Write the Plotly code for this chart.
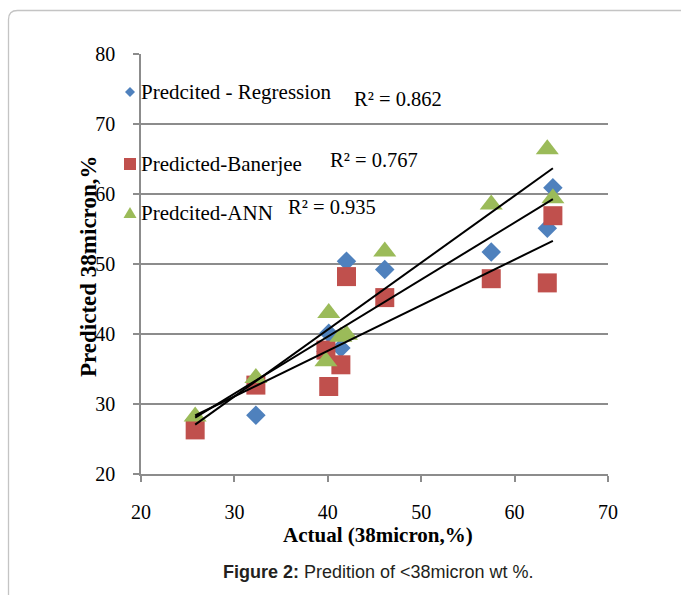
import numpy as np
import plotly.graph_objects as go

# ---- data ----
actual = [25.8, 32.3, 39.8, 40.1, 41.4, 42.0, 46.1, 57.5, 63.5, 64.1]
pred_regression = [27.8, 28.4, 37.5, 40.1, 38.0, 50.4, 49.2, 51.7, 55.1, 60.9]
pred_banerjee = [26.3, 32.7, 37.7, 32.5, 35.6, 48.2, 45.2, 47.9, 47.3, 56.9]
pred_ann = [28.2, 33.7, 36.1, 43.0, 39.6, 39.9, 51.8, 58.5, 66.4, 59.4]

series_names = ["Predcited - Regression", "Predicted-Banerjee", "Predcited-ANN"]
r2_labels = ["R² = 0.862", "R² = 0.767", "R² = 0.935"]
x_ticks = [20, 30, 40, 50, 60, 70]
y_ticks = [20, 30, 40, 50, 60, 70, 80]

colors = ["#4F81BD", "#C0504D", "#9BBB59"]
symbols = ["diamond", "square", "triangle-up"]
sizes = [15, 19, 20]

W, H = 681, 595
ML, MR, MT, MB = 141, 73, 54, 121
PW = W - ML - MR
PH = H - MT - MB


def px(x):
    return (x - ML) / PW


def py(y):
    return (H - MB - y) / PH


SERIF = "Liberation Serif, Times New Roman, serif"
GRID = "#8c8c8c"

fig = go.Figure()

all_series = [pred_regression, pred_banerjee, pred_ann]
for vals, name, c, s, sz in zip(all_series, series_names, colors, symbols, sizes):
    fig.add_trace(go.Scatter(
        x=actual, y=vals, mode="markers", name=name, showlegend=False,
        marker=dict(color=c, symbol=s, size=sz, line=dict(width=0)),
        cliponaxis=False,
    ))

# linear trendlines (least squares) over the data range
xa = np.array(actual)
xline = np.array([xa.min(), xa.max()])
for vals in all_series:
    k, b = np.polyfit(xa, np.array(vals), 1)
    fig.add_trace(go.Scatter(
        x=xline, y=k * xline + b, mode="lines", showlegend=False,
        line=dict(color="black", width=2),
    ))

annotations = []
shapes = []

# legend entries (manual, to match the uneven spacing of the original)
legend_y = [92, 164, 213]
legend_paths = [
    "M -5 0 L 0 5 L 5 0 L 0 -5 Z",
    "M -6 -6 L 6 -6 L 6 6 L -6 6 Z",
    "M -6.5 -5 L 6.5 -5 L 0 6 Z",
]
for name, c, path, ly in zip(series_names, colors, legend_paths, legend_y):
    shapes.append(dict(
        type="path", xref="paper", yref="paper",
        xsizemode="pixel", ysizemode="pixel",
        xanchor=px(130), yanchor=py(ly), path=path,
        fillcolor=c, line=dict(width=0),
    ))
    annotations.append(dict(
        x=px(139), y=py(ly), xref="paper", yref="paper",
        xanchor="left", yanchor="middle", showarrow=False,
        text=name, font=dict(family=SERIF, size=21, color="black"),
    ))

# R² labels
r2_pos = [(397.5, 99), (374, 160), (332, 207)]
for t, (ax_, ay_) in zip(r2_labels, r2_pos):
    annotations.append(dict(
        x=px(ax_), y=py(ay_), xref="paper", yref="paper",
        xanchor="center", yanchor="middle", showarrow=False,
        text=t, font=dict(family=SERIF, size=20.5, color="black"),
    ))

# axis titles
annotations.append(dict(
    x=px(377.5), y=py(535), xref="paper", yref="paper",
    xanchor="center", yanchor="middle", showarrow=False,
    text="<b>Actual (38micron,%)</b>", font=dict(family=SERIF, size=21, color="black"),
))
annotations.append(dict(
    x=px(88), y=py(267), xref="paper", yref="paper",
    xanchor="center", yanchor="middle", showarrow=False, textangle=-90,
    text="<b>Predicted 38micron,%</b>", font=dict(family=SERIF, size=23, color="black"),
))

# caption
annotations.append(dict(
    x=px(378), y=py(572), xref="paper", yref="paper",
    xanchor="center", yanchor="middle", showarrow=False,
    text="<b>Figure 2:</b> Predition of &lt;38micron wt %.",
    font=dict(family="Liberation Sans, Arial, sans-serif", size=18, color="#231f20"),
))

# frame with rounded top-left corner
r = 9
fl, ft, fr, fb = 8.5, 10.5, 700, 620
frame_path = (
    f"M {px(fl)} {py(fb)} L {px(fl)} {py(ft + r)} "
    f"Q {px(fl)} {py(ft)} {px(fl + r)} {py(ft)} L {px(fr)} {py(ft)}"
)
shapes.append(dict(
    type="path", xref="paper", yref="paper", path=frame_path,
    line=dict(color="#c4c4c4", width=1.3), layer="below",
))

fig.update_layout(
    width=W, height=H, autosize=False,
    margin=dict(l=ML, r=MR, t=MT, b=MB, pad=0),
    paper_bgcolor="white", plot_bgcolor="white",
    showlegend=False,
    annotations=annotations, shapes=shapes,
    font=dict(family=SERIF, size=20, color="black"),
)
fig.update_xaxes(
    range=[20, 70], tickvals=x_ticks, ticktext=[str(v) for v in x_ticks],
    showgrid=False, zeroline=False,
    showline=True, linecolor=GRID, linewidth=1.6,
    ticks="outside", ticklen=6, tickwidth=1.6, tickcolor=GRID,
    tickfont=dict(family=SERIF, size=20, color="black"),
    ticklabelstandoff=13,
)
fig.update_yaxes(
    range=[20, 80], tickvals=y_ticks, ticktext=[str(v) for v in y_ticks],
    showgrid=True, gridcolor=GRID, gridwidth=1.6, zeroline=False,
    showline=True, linecolor=GRID, linewidth=1.6,
    ticks="outside", ticklen=6, tickwidth=1.6, tickcolor=GRID,
    tickfont=dict(family=SERIF, size=20, color="black"),
    ticklabelstandoff=14,
)

fig.write_html("out.html")
